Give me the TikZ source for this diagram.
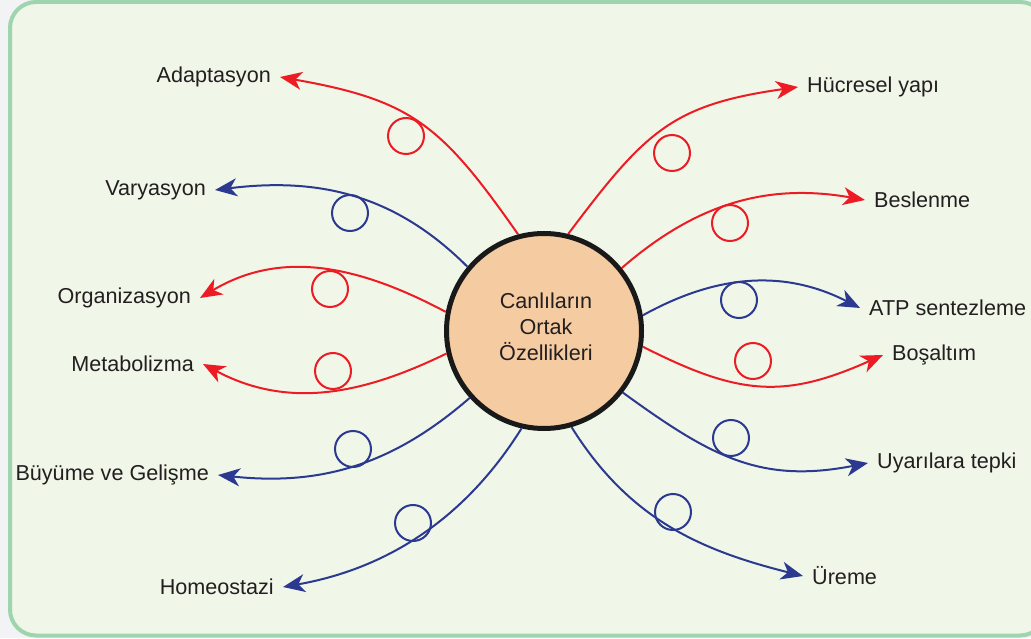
\documentclass[tikz,border=0pt]{standalone}
\usepackage{fontspec}
\setmainfont{Liberation Sans}
\usetikzlibrary{arrows.meta}

\definecolor{ored}{RGB}{237,28,36}
\definecolor{oblue}{RGB}{43,57,144}
\definecolor{peach}{RGB}{245,203,161}
\definecolor{panel}{RGB}{240,246,232}
\definecolor{panelline}{RGB}{158,213,174}
\definecolor{outside}{RGB}{242,243,245}
\definecolor{ink}{RGB}{35,31,32}

\begin{document}
\begin{tikzpicture}[x=1pt, y=1pt,
  font=\fontsize{21.6}{26}\selectfont,
  lbl/.style={text=ink, inner xsep=9pt, inner ysep=2pt},
  hub/.style={circle, draw=black!90, line width=5pt, fill=peach, minimum size=195pt, align=center, text=ink},
  arr/.style={line width=2pt, -{Stealth[length=22pt, width=18pt, inset=6.5pt]}},
  blank/.style={circle, draw, line width=2pt, minimum size=36pt, inner sep=0pt}]
\useasboundingbox (0,0) rectangle (1031,638);
\fill[outside] (0,0) rectangle (1031,638);
\begin{scope}
\clip (0,0) rectangle (1031,638);
\draw[panelline, fill=panel, line width=4pt, rounded corners=26pt] (10,2.5) rectangle (1046,636);
\end{scope}

\node[hub] (c) at (544,307) {};
\node[text=ink, align=center] (ctext) at (546,311) {Canlıların\\Ortak\\Özellikleri};

\node[lbl, anchor=east] (adapt) at (280,561) {Adaptasyon};
\node[lbl, anchor=east] (vary) at (215,448) {Varyasyon};
\node[lbl, anchor=east] (org) at (200,340) {Organizasyon};
\node[lbl, anchor=east] (meta) at (203,274) {Metabolizma};
\node[lbl, anchor=east] (buyume) at (218,163) {Büyüme ve Gelişme};
\node[lbl, anchor=east] (homeo) at (283,51) {Homeostazi};
\node[lbl, anchor=west] (hucre) at (798,551) {Hücresel yapı};
\node[lbl, anchor=west] (besin) at (865,438) {Beslenme};
\node[lbl, anchor=west] (atp) at (860,330) {ATP sentezleme};
\node[lbl, anchor=west] (bosalt) at (883,283) {Boşaltım};
\node[lbl, anchor=west] (uyari) at (868,175) {Uyarılara tepki};
\node[lbl, anchor=west] (ureme) at (803,62) {Üreme};

\draw[arr, ored] (c.105) to[out=125, in=-10, looseness=1.2] (adapt.east);
\draw[arr, oblue] (c.140) to[out=135, in=7] (vary.east);
\draw[arr, ored] (c.169) to[out=152, in=31] (org.east);
\draw[arr, ored] (c.193) to[out=206, in=-28] (meta.east);
\draw[arr, oblue] (c.222) to[out=221, in=-6] (buyume.east);
\draw[arr, oblue] (c.257) to[out=238, in=10, looseness=0.95] (homeo.east);
\draw[arr, ored] (c.76) to[out=53, in=188, looseness=1.2] (hucre.west);
\draw[arr, ored] (c.39) to[out=41, in=170] (besin.west);
\draw[arr, oblue] (c.9) to[out=29, in=153] (atp.west);
\draw[arr, ored] (c.-9) to[out=-27, in=204, looseness=1.15] (bosalt.west);
\draw[arr, oblue] (c.-38) to[out=-36, in=191, looseness=1.1] (uyari.west);
\draw[arr, oblue] (c.-74) to[out=-58, in=166] (ureme.west);

\node[blank, ored] (adapt-o) at (406,502) {};
\node[blank, oblue] (vary-o) at (350,425) {};
\node[blank, ored] (org-o) at (330,349) {};
\node[blank, ored] (meta-o) at (333,267) {};
\node[blank, oblue] (buyume-o) at (353,189) {};
\node[blank, oblue] (homeo-o) at (413,115) {};
\node[blank, ored] (hucre-o) at (672,485) {};
\node[blank, ored] (besin-o) at (730,415) {};
\node[blank, oblue] (atp-o) at (739,338) {};
\node[blank, ored] (bosalt-o) at (753,277) {};
\node[blank, oblue] (uyari-o) at (731,200) {};
\node[blank, oblue] (ureme-o) at (673,126) {};
\end{tikzpicture}
\end{document}
